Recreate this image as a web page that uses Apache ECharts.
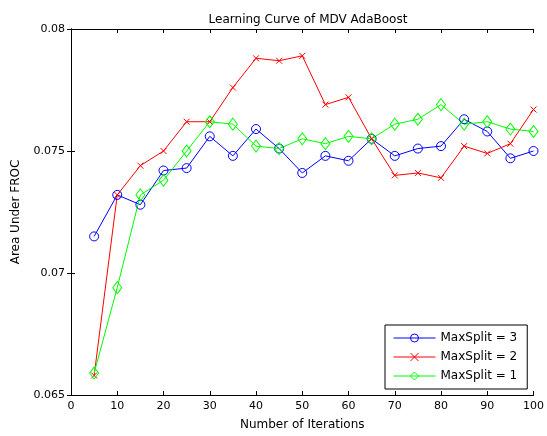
<!DOCTYPE html>
<html>
<head>
<meta charset="utf-8">
<script src="https://cdn.jsdelivr.net/npm/echarts@6/dist/echarts.min.js"></script>
<style>html,body{margin:0;padding:0;background:#fff;}#chart{width:547px;height:436px;}</style>
</head>
<body>
<div id="chart"></div>
<script>
const iterations = [5, 10, 15, 20, 25, 30, 35, 40, 45, 50, 55, 60, 65, 70, 75, 80, 85, 90, 95, 100];
const maxSplit3 = [0.0715, 0.0732, 0.0728, 0.0742, 0.0743, 0.0756, 0.0748, 0.0759, 0.0751, 0.0741, 0.0748, 0.0746, 0.0755, 0.0748, 0.0751, 0.0752, 0.0763, 0.0758, 0.0747, 0.0750];
const maxSplit2 = [0.0658, 0.0732, 0.0744, 0.0750, 0.0762, 0.0762, 0.0776, 0.0788, 0.0787, 0.0789, 0.0769, 0.0772, 0.0755, 0.0740, 0.0741, 0.0739, 0.0752, 0.0749, 0.0753, 0.0767];
const maxSplit1 = [0.0659, 0.0694, 0.0732, 0.0738, 0.0750, 0.0762, 0.0761, 0.0752, 0.0751, 0.0755, 0.0753, 0.0756, 0.0755, 0.0761, 0.0763, 0.0769, 0.0761, 0.0762, 0.0759, 0.0758];
const seriesNames = ['MaxSplit = 3', 'MaxSplit = 2', 'MaxSplit = 1'];
const xTicks = [0, 10, 20, 30, 40, 50, 60, 70, 80, 90, 100];
const yTicks = [0.065, 0.07, 0.075, 0.08];

const FONT = 'DejaVu Sans';
const pair = (ys) => iterations.map((x, i) => [x, ys[i]]);
const chart = echarts.init(document.getElementById('chart'), null, {renderer: 'canvas'});
const axisCommon = {
  axisLine: {show: true, lineStyle: {color: '#000', width: 1}},
  axisTick: {show: true, inside: true, length: 4, lineStyle: {color: '#000'}},
  splitLine: {show: false}
};
const hollow = (c) => ({color: 'rgba(0,0,0,0)', borderColor: c, borderWidth: 1});
chart.setOption({
  animation: false,
  backgroundColor: '#fff',
  title: {
    text: 'Learning Curve of MDV AdaBoost',
    left: 303, top: 9, textAlign: 'center',
    textStyle: {fontFamily: FONT, fontSize: 12, fontWeight: 'normal', color: '#000'}
  },
  grid: {left: 71, right: 11, top: 29, bottom: 37, containLabel: false},
  legend: {
    orient: 'vertical',
    left: 385, top: 325,
    padding: [6, 10, 6, 8],
    itemWidth: 42, itemHeight: 10, itemGap: 5,
    backgroundColor: '#fff',
    borderColor: '#000', borderWidth: 1,
    lineStyle: {width: 1},
    itemStyle: {borderWidth: 1},
    textStyle: {fontFamily: FONT, fontSize: 12, color: '#000', lineHeight: 14},
    data: seriesNames
  },
  xAxis: [
    Object.assign({
      type: 'value', min: xTicks[0], max: xTicks[xTicks.length - 1], interval: 10,
      position: 'bottom',
      name: 'Number of Iterations', nameLocation: 'middle', nameGap: 24,
      nameTextStyle: {fontFamily: FONT, fontSize: 12, color: '#000'},
      axisLabel: {fontFamily: FONT, fontSize: 11, color: '#000', margin: 6}
    }, axisCommon),
    Object.assign({
      type: 'value', min: xTicks[0], max: xTicks[xTicks.length - 1], interval: 10,
      position: 'top', axisLabel: {show: false}
    }, axisCommon)
  ],
  yAxis: [
    Object.assign({
      type: 'value', min: yTicks[0], max: yTicks[yTicks.length - 1], interval: 0.005,
      position: 'left',
      name: 'Area Under FROC', nameLocation: 'middle', nameGap: 49,
      nameTextStyle: {fontFamily: FONT, fontSize: 12, color: '#000'},
      axisLabel: {fontFamily: FONT, fontSize: 11, color: '#000', margin: 6,
        formatter: (v) => String(+v.toFixed(3))}
    }, axisCommon),
    Object.assign({
      type: 'value', min: yTicks[0], max: yTicks[yTicks.length - 1], interval: 0.005,
      position: 'right', axisLabel: {show: false}
    }, axisCommon)
  ],
  series: [
    {
      name: seriesNames[0], type: 'line', data: pair(maxSplit3),
      symbol: 'circle', symbolSize: 9, showAllSymbol: true,
      lineStyle: {color: '#0000ff', width: 1},
      itemStyle: hollow('#0000ff')
    },
    {
      name: seriesNames[1], type: 'line', data: pair(maxSplit2),
      symbol: 'path://M0,0L10,10M10,0L0,10', symbolSize: 6, showAllSymbol: true,
      lineStyle: {color: '#ff0000', width: 1},
      itemStyle: hollow('#ff0000')
    },
    {
      name: seriesNames[2], type: 'line', data: pair(maxSplit1),
      symbol: 'diamond', symbolSize: [9, 12], showAllSymbol: true,
      lineStyle: {color: '#00ff00', width: 1},
      itemStyle: hollow('#00ff00')
    }
  ]
});
</script>
</body>
</html>
